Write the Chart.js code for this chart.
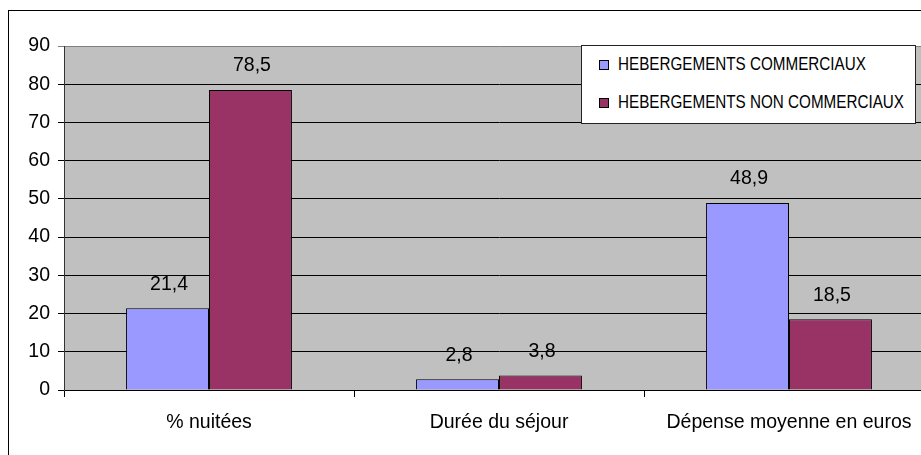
<!DOCTYPE html>
<html>
<head>
<meta charset="utf-8">
<script src="https://cdn.jsdelivr.net/npm/chart.js@4/dist/chart.umd.min.js"></script>
<style>
  html, body { margin:0; padding:0; background:#fff; overflow:hidden; width:921px; height:455px; }
  #frame { position:absolute; left:8px; top:10px; width:1000px; height:600px; border:1px solid #000; box-sizing:border-box; }
  #wrap { position:absolute; left:0; top:0; width:960px; height:455px; }
  #legend { position:absolute; left:581px; top:45px; width:335px; height:79px; background:#fff; border:1px solid #222; box-sizing:border-box;
            font-family:"Liberation Sans", Arial, sans-serif; font-size:18px; color:#000; }
  .row { position:absolute; left:17px; height:20px; line-height:20px; white-space:nowrap; }
  .sw { position:absolute; left:0; top:6px; width:8px; height:8px; border:1px solid #000; }
  .tx { position:absolute; left:19px; top:0; display:inline-block; transform:scaleX(0.846); transform-origin:0 50%; }
</style>
</head>
<body>
<div id="frame"></div>
<div id="wrap"><canvas id="c" width="960" height="455"></canvas></div>
<div id="legend">
  <div class="row" style="top:8px"><span class="sw" style="background:#9999ff"></span><span class="tx" id="l0"></span></div>
  <div class="row" style="top:46px"><span class="sw" style="background:#993366"></span><span class="tx" id="l1"></span></div>
</div>
<script>
const categories = ["% nuitées", "Durée du séjour", "Dépense moyenne en euros"];
const seriesNames = ["HEBERGEMENTS COMMERCIAUX", "HEBERGEMENTS NON COMMERCIAUX"];
const commerciaux = [21.4, 2.8, 48.9];
const nonCommerciaux = [78.5, 3.8, 18.5];
const yTicks = [0, 10, 20, 30, 40, 50, 60, 70, 80, 90];

document.getElementById('l0').textContent = seriesNames[0];
document.getElementById('l1').textContent = seriesNames[1];

const FONT = "'Liberation Sans', Arial, sans-serif";

const plotBg = {
  id: 'plotBg',
  beforeDraw(chart) {
    const {ctx, chartArea:a} = chart;
    ctx.save();
    ctx.fillStyle = '#c0c0c0';
    ctx.fillRect(a.left, a.top, a.right - a.left, a.bottom - a.top);
    ctx.restore();
  }
};

const valueLabels = {
  id: 'valueLabels',
  afterDatasetsDraw(chart) {
    const ctx = chart.ctx;
    ctx.save();
    ctx.font = "19.5px " + FONT;
    ctx.fillStyle = '#000';
    ctx.textAlign = 'center';
    ctx.textBaseline = 'middle';
    chart.data.datasets.forEach((ds, i) => {
      chart.getDatasetMeta(i).data.forEach((bar, j) => {
        ctx.fillText(String(ds.data[j]).replace('.', ','), bar.x + 1.5, bar.y - 24);
      });
    });
    ctx.restore();
  }
};

new Chart(document.getElementById('c'), {
  type: 'bar',
  data: {
    labels: categories,
    datasets: [
      { label: seriesNames[0], data: commerciaux, backgroundColor: '#9999ff', borderColor: '#000', borderWidth: 1, borderSkipped: 'bottom' },
      { label: seriesNames[1], data: nonCommerciaux, backgroundColor: '#993366', borderColor: '#000', borderWidth: 1, borderSkipped: 'bottom' }
    ]
  },
  options: {
    responsive: false,
    animation: false,
    events: [],
    layout: { padding: { left: 0, top: 46, right: 26, bottom: 0 } },
    datasets: { bar: { categoryPercentage: 0.572, barPercentage: 1.0 } },
    plugins: { legend: { display: false }, tooltip: { enabled: false } },
    scales: {
      x: {
        afterFit(s) { s.height = 65; },
        grid: { offset: true, drawOnChartArea: false, drawTicks: true, tickLength: 7, color: '#000' },
        border: { color: '#000', width: 1 },
        ticks: { color: '#000', font: { family: FONT, size: 19.5 }, padding: 14, maxRotation: 0 }
      },
      y: {
        min: 0, max: 90,
        afterFit(s) { s.width = 64; },
        afterBuildTicks(s) { s.ticks = yTicks.map(v => ({ value: v })); },
        grid: { color: (c) => c.tick && c.tick.value === 90 ? '#808080' : '#000', tickLength: 6, drawTicks: true },
        border: { color: '#333', width: 1 },
        ticks: { color: '#000', font: { family: FONT, size: 19.5 }, padding: 8 }
      }
    }
  },
  plugins: [plotBg, valueLabels]
});
</script>
</body>
</html>
